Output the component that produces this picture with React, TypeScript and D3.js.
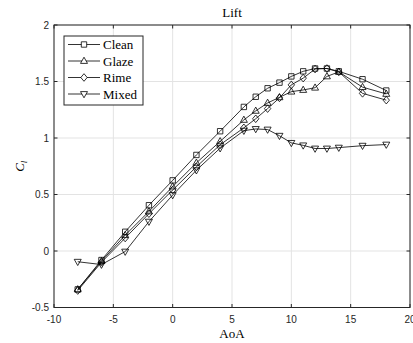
import React, { useRef, useEffect } from 'react';
import * as d3 from 'd3';

const aoa = [-8, -6, -4, -2, 0, 2, 4, 6, 7, 8, 9, 10, 11, 12, 13, 14, 16, 18];
const clean = [-0.34, -0.08, 0.17, 0.405, 0.625, 0.85, 1.06, 1.275, 1.365, 1.44, 1.49, 1.545, 1.59, 1.615, 1.615, 1.59, 1.52, 1.42];
const glaze = [-0.34, -0.09, 0.14, 0.35, 0.57, 0.78, 0.97, 1.16, 1.24, 1.31, 1.36, 1.41, 1.425, 1.445, 1.545, 1.585, 1.45, 1.39];
const rime = [-0.35, -0.1, 0.115, 0.33, 0.54, 0.745, 0.94, 1.09, 1.17, 1.26, 1.355, 1.47, 1.53, 1.61, 1.615, 1.585, 1.395, 1.335];
const mixed = [-0.095, -0.12, -0.005, 0.26, 0.495, 0.715, 0.91, 1.065, 1.08, 1.075, 1.02, 0.957, 0.935, 0.907, 0.907, 0.915, 0.932, 0.942];

const seriesNames = ['Clean', 'Glaze', 'Rime', 'Mixed'];
const seriesValues = [clean, glaze, rime, mixed];
const markerKinds = ['square', 'triUp', 'diamond', 'triDown'];

const xTicks = [-10, -5, 0, 5, 10, 15, 20];
const yTicks = [-0.5, 0, 0.5, 1, 1.5, 2];

const markerPath = (kind: string) => {
  if (kind === 'square') return 'M-2.7,-2.7H2.7V2.7H-2.7Z';
  if (kind === 'triUp') return 'M0,-3.8L3.5,2.4L-3.5,2.4Z';
  if (kind === 'triDown') return 'M0,3.8L3.5,-2.4L-3.5,-2.4Z';
  return 'M0,-3.8L3.2,0L0,3.8L-3.2,0Z';
};

const App: React.FC = () => {
  const svgRef = useRef<SVGSVGElement>(null);
  const width = 413;
  const height = 343;

  useEffect(() => {
    if (!svgRef.current) return;
    const svg = d3.select(svgRef.current);
    svg.selectAll('*').remove();

    const margin = { top: 25, right: 3, bottom: 35.5, left: 54 };
    const w = width - margin.left - margin.right;
    const h = height - margin.top - margin.bottom;
    const axisColor = '#262626';

    const x = d3.scaleLinear().domain([-10, 20]).range([0, w]);
    const y = d3.scaleLinear().domain([-0.5, 2]).range([h, 0]);

    const g = svg.append('g').attr('transform', `translate(${margin.left},${margin.top})`);

    // grid
    xTicks.forEach(v => {
      g.append('line')
        .attr('x1', x(v)).attr('x2', x(v)).attr('y1', 0).attr('y2', h)
        .attr('stroke', '#e3e3e3').attr('stroke-width', 1);
    });
    yTicks.forEach(v => {
      g.append('line')
        .attr('x1', 0).attr('x2', w).attr('y1', y(v)).attr('y2', y(v))
        .attr('stroke', '#e3e3e3').attr('stroke-width', 1);
    });

    // series
    const line = d3.line<number>()
      .x((d, i) => x(aoa[i]))
      .y(d => y(d));

    seriesValues.forEach((vals, s) => {
      g.append('path')
        .datum(vals)
        .attr('d', line)
        .attr('fill', 'none')
        .attr('stroke', '#000')
        .attr('stroke-width', 0.8);
      vals.forEach((v, i) => {
        g.append('path')
          .attr('d', markerPath(markerKinds[s]))
          .attr('transform', `translate(${x(aoa[i])},${y(v)})`)
          .attr('fill', 'none')
          .attr('stroke', '#000')
          .attr('stroke-width', 0.8);
      });
    });

    // box
    g.append('rect')
      .attr('x', 0).attr('y', 0).attr('width', w).attr('height', h)
      .attr('fill', 'none').attr('stroke', axisColor).attr('stroke-width', 1);

    // ticks inside
    xTicks.forEach(v => {
      g.append('line').attr('x1', x(v)).attr('x2', x(v)).attr('y1', h).attr('y2', h - 3.5)
        .attr('stroke', axisColor);
      g.append('line').attr('x1', x(v)).attr('x2', x(v)).attr('y1', 0).attr('y2', 3.5)
        .attr('stroke', axisColor);
      g.append('text')
        .attr('x', x(v)).attr('y', h + 15)
        .attr('text-anchor', 'middle')
        .attr('font-family', '"Liberation Sans", Arial, sans-serif')
        .attr('font-size', '10px')
        .attr('fill', axisColor)
        .text(String(v));
    });
    yTicks.forEach(v => {
      g.append('line').attr('x1', 0).attr('x2', 3.5).attr('y1', y(v)).attr('y2', y(v))
        .attr('stroke', axisColor);
      g.append('line').attr('x1', w).attr('x2', w - 3.5).attr('y1', y(v)).attr('y2', y(v))
        .attr('stroke', axisColor);
      g.append('text')
        .attr('x', -5).attr('y', y(v) + 3.5)
        .attr('text-anchor', 'end')
        .attr('font-family', '"Liberation Sans", Arial, sans-serif')
        .attr('font-size', '10px')
        .attr('fill', axisColor)
        .text(String(v));
    });

    const serif = '"Liberation Serif", "Times New Roman", serif';

    // title
    svg.append('text')
      .attr('x', margin.left + w / 2).attr('y', 17)
      .attr('text-anchor', 'middle')
      .attr('font-family', serif).attr('font-size', '13px')
      .attr('fill', '#000')
      .text('Lift');

    // x label
    svg.append('text')
      .attr('x', margin.left + w / 2).attr('y', 338)
      .attr('text-anchor', 'middle')
      .attr('font-family', serif).attr('font-size', '13px')
      .attr('fill', '#000')
      .text('AoA');

    // y label
    const yl = svg.append('text')
      .attr('transform', `translate(24,${margin.top + h / 2}) rotate(-90)`)
      .attr('text-anchor', 'middle')
      .attr('font-family', serif).attr('font-size', '13px')
      .attr('font-style', 'italic')
      .attr('fill', '#000');
    yl.append('tspan').text('C');
    yl.append('tspan').attr('font-size', '9px').attr('dy', 3).text('l');

    // legend
    const legend = svg.append('g').attr('transform', 'translate(64,36)');
    legend.append('rect')
      .attr('x', 0).attr('y', 0).attr('width', 79).attr('height', 69)
      .attr('fill', '#fff').attr('stroke', axisColor).attr('stroke-width', 1);
    seriesNames.forEach((name, s) => {
      const ly = 8.5 + s * 16.5;
      legend.append('line')
        .attr('x1', 4).attr('x2', 36).attr('y1', ly).attr('y2', ly)
        .attr('stroke', '#000').attr('stroke-width', 0.8);
      legend.append('path')
        .attr('d', markerPath(markerKinds[s]))
        .attr('transform', `translate(20,${ly})`)
        .attr('fill', '#fff').attr('stroke', '#000').attr('stroke-width', 0.8);
      legend.append('text')
        .attr('x', 39).attr('y', ly + 4.5)
        .attr('font-family', serif).attr('font-size', '13px')
        .attr('fill', '#000')
        .text(name);
    });
  }, []);

  return (
    <svg
      ref={svgRef}
      width={width}
      height={height}
      style={{ position: 'absolute', left: 0, top: 0, background: '#fff' }}
    />
  );
};

export default App;
